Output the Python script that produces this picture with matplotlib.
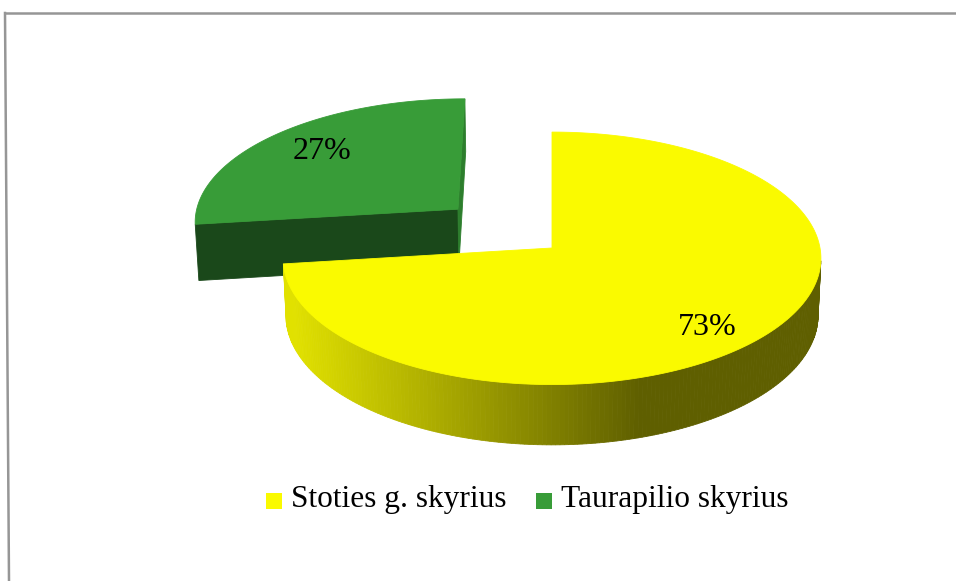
import numpy as np
import matplotlib
matplotlib.use("Agg")
import matplotlib.pyplot as plt
from matplotlib.patches import Polygon, Rectangle
from matplotlib.colors import to_rgb

# ---- data ----
categories = ["Stoties g. skyrius", "Taurapilio skyrius"]
values = [73, 27]
colors_top = ["#FAFA00", "#389C38"]
explode = [0.0, 0.48]
label_shift = [-11, 1]   # vertical label nudge in points

W, H = 956, 581
fig = plt.figure(figsize=(W / 100, H / 100), dpi=100)
ax = fig.add_axes([0, 0, 1, 1])
ax.set_xlim(0, W)
ax.set_ylim(H, 0)
ax.axis("off")

# ---- 3D projection parameters ----
R = 268.0
elev = np.radians(27.9)
Dcam = 2900.0
THK = 65.0
CX, CY = 552.0, 248.0
cam = np.array([0.0, -Dcam * np.cos(elev), Dcam * np.sin(elev)])


def proj(x, y, z):
    up = y * np.sin(elev) + z * np.cos(elev)
    depth = y * np.cos(elev) - z * np.sin(elev)
    s = Dcam / (Dcam + depth)
    return CX + x * s, CY - up * s


def shade(c, f):
    r, g, b = to_rgb(c)
    return (r * f, g * f, b * f)


def visible(point, normal):
    return np.dot(cam - np.asarray(point), np.asarray(normal)) > 0


# slices go clockwise from 12 o'clock
total = float(sum(values))
slices = []
start = 90.0
for i, v in enumerate(values):
    end = start - 360.0 * v / total
    mid = np.radians((start + end) / 2)
    off = (explode[i] * R * np.cos(mid), explode[i] * R * np.sin(mid))
    slices.append((i, start, end, off))
    start = end

# draw farther slices first
slices.sort(key=lambda s: -s[3][1])

for i, t1, t2, (ox, oy) in slices:
    col = colors_top[i]
    th = np.radians(np.linspace(t1, t2, 300))
    # curved side
    for a, b in zip(th[:-1], th[1:]):
        m = (a + b) / 2
        pt = (ox + R * np.cos(m), oy + R * np.sin(m), -THK / 2)
        if not visible(pt, (np.cos(m), np.sin(m), 0)):
            continue
        p1 = proj(ox + R * np.cos(a), oy + R * np.sin(a), 0)
        p2 = proj(ox + R * np.cos(b), oy + R * np.sin(b), 0)
        p3 = proj(ox + R * np.cos(b), oy + R * np.sin(b), -THK)
        p4 = proj(ox + R * np.cos(a), oy + R * np.sin(a), -THK)
        xm = (p1[0] + p2[0]) / 2
        t = np.clip((xm - 293) / (640 - 293), 0, 1)
        f = 0.90 - 0.52 * t
        c = shade(col, f)
        ax.add_patch(Polygon([p1, p2, p3, p4], closed=True, facecolor=c,
                             edgecolor=c, lw=0.6, zorder=2))
    # radial faces
    for ang, sign in ((t1, 1), (t2, -1)):
        a = np.radians(ang)
        n = (-np.sin(a) * sign, np.cos(a) * sign, 0)
        midp = (ox + R / 2 * np.cos(a), oy + R / 2 * np.sin(a), -THK / 2)
        if not visible(midp, n):
            continue
        f = 0.41 + 0.4 * max(0.0, n[0])
        c = shade(col, f)
        pts = [proj(ox, oy, 0), proj(ox + R * np.cos(a), oy + R * np.sin(a), 0),
               proj(ox + R * np.cos(a), oy + R * np.sin(a), -THK), proj(ox, oy, -THK)]
        ax.add_patch(Polygon(pts, closed=True, facecolor=c, edgecolor=c,
                             lw=0.6, zorder=2))
    # top face
    top = [proj(ox, oy, 0)] + [proj(ox + R * np.cos(a), oy + R * np.sin(a), 0) for a in th]
    ax.add_patch(Polygon(top, closed=True, facecolor=col, edgecolor=col,
                         lw=0.6, zorder=3))
    # percentage label
    mid = np.radians((t1 + t2) / 2)
    lx, ly = proj(ox + 0.74 * R * np.cos(mid), oy + 0.74 * R * np.sin(mid), 0)
    ax.annotate(f"{values[i] / total * 100:.0f}%", (lx, ly),
                xytext=(0, label_shift[i]), textcoords="offset points",
                ha="center", va="center", fontsize=23,
                family="Liberation Serif", color="black", zorder=5)

# ---- legend ----
lx0 = 266
for i, name in enumerate(categories):
    ax.add_patch(Rectangle((lx0, 493), 16, 16, facecolor=colors_top[i],
                           edgecolor="none", zorder=5))
    t = ax.text(lx0 + 25, 500, name, ha="left", va="center", fontsize=22.6,
                family="Liberation Serif", color="black", zorder=5)
    fig.canvas.draw()
    bb = t.get_window_extent()
    lx0 = bb.x1 + 30

# ---- chart border ----
ax.plot([5, 9], [13, H], color="#969696", lw=1.8, zorder=6)
ax.plot([5, W], [13, 13], color="#969696", lw=1.8, zorder=6)

fig.savefig("out.png", dpi=100)
